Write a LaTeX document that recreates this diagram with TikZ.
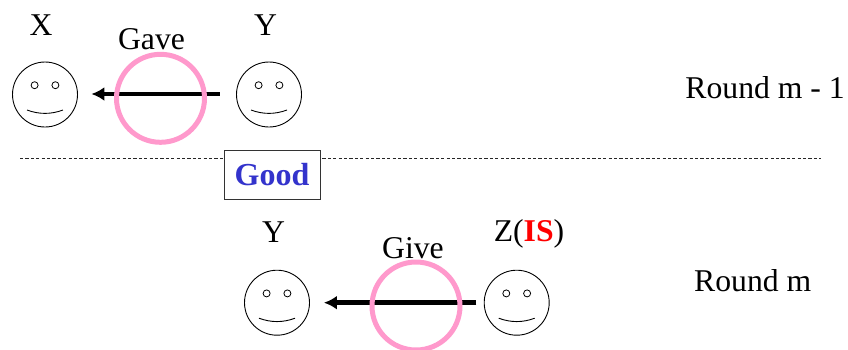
\documentclass[tikz,border=0pt]{standalone}
\usepackage{fontspec}
\setmainfont{Liberation Serif}
\usetikzlibrary{arrows.meta}
\definecolor{ringpink}{RGB}{255,153,204}
\definecolor{goodblue}{RGB}{51,51,204}
\tikzset{
  x=1pt,y=-1pt,
  face/.style={circle,draw=black,line width=0.9pt,minimum size=65pt,inner sep=0pt},
  ring/.style={circle,draw=ringpink,line width=5pt,minimum size=88pt,inner sep=0pt},
  lab/.style={font=\fontsize{31.7}{34}\selectfont,inner sep=0pt,text=black},
  flow/.style={line width=4.6pt,-{Latex[length=13pt,width=14pt]}},
  sep/.style={dashed,dash pattern=on 3.2pt off 2.2pt,line width=0.8pt,draw=black!85},
  goodbox/.style={draw=black!80,fill=white,line width=0.9pt,minimum width=96pt,minimum height=49pt,inner sep=0pt,
    font=\fontsize{32}{34}\selectfont\bfseries,text=goodblue},
  eye/.style={line width=0.8pt},
  smile/.style={line width=0.9pt}
}
\newcommand{\smileyfeatures}[1]{%
  \draw[eye] ([shift={(-10.4,-9.3)}]#1.center) circle[radius=3.5];
  \draw[eye] ([shift={(10.4,-9.3)}]#1.center) circle[radius=3.5];
  \draw[smile] ([shift={(-18,15.5)}]#1.center) .. controls ([shift={(-6,20)}]#1.center) and ([shift={(6,20)}]#1.center) .. ([shift={(18,15.5)}]#1.center);
}
\begin{document}
\begin{tikzpicture}
\useasboundingbox (0,0) rectangle (848,349);
\clip (0,0) rectangle (848,349);
% separator
\coordinate (sepL) at (20,158);
\coordinate (sepR) at (821,158);
\draw[sep] (sepL) -- (sepR);
\node[goodbox] (good) at (272,175) {Good};
% top row
\node[face] (fx) at (45,94.5) {};
\node[face] (fy) at (269,94.5) {};
\smileyfeatures{fx}
\smileyfeatures{fy}
\draw[flow,shorten <=16.5pt,shorten >=13.5pt] (fy.west |- 0,94) -- (fx.east |- 0,94);
\node[ring] (r1) at (160.5,98.3) {};
\node[lab] (lx) at (41,25) {X};
\node[lab] (ly) at (265.5,25) {Y};
\node[lab] (lgave) at (151.5,39.5) {Gave};
\node[lab,anchor=east] (lr1) at (845,88) {Round m - 1};
% bottom row
\node[face] (gy) at (277,302.7) {};
\node[face] (gz) at (516.7,302.7) {};
\smileyfeatures{gy}
\smileyfeatures{gz}
\draw[flow,shorten <=7.5pt,shorten >=14pt] (gz) -- (gy);
\node[ring] (r2) at (416,306) {};
\node[lab] (ly2) at (273.5,232.5) {Y};
\node[lab] (lgive) at (413,248.5) {Give};
\node[lab] (lz) at (529,233.5) {Z(\textcolor{red}{\textbf{IS}})};
\node[lab,anchor=west] (lr2) at (694,281) {Round m};
\end{tikzpicture}
\end{document}
